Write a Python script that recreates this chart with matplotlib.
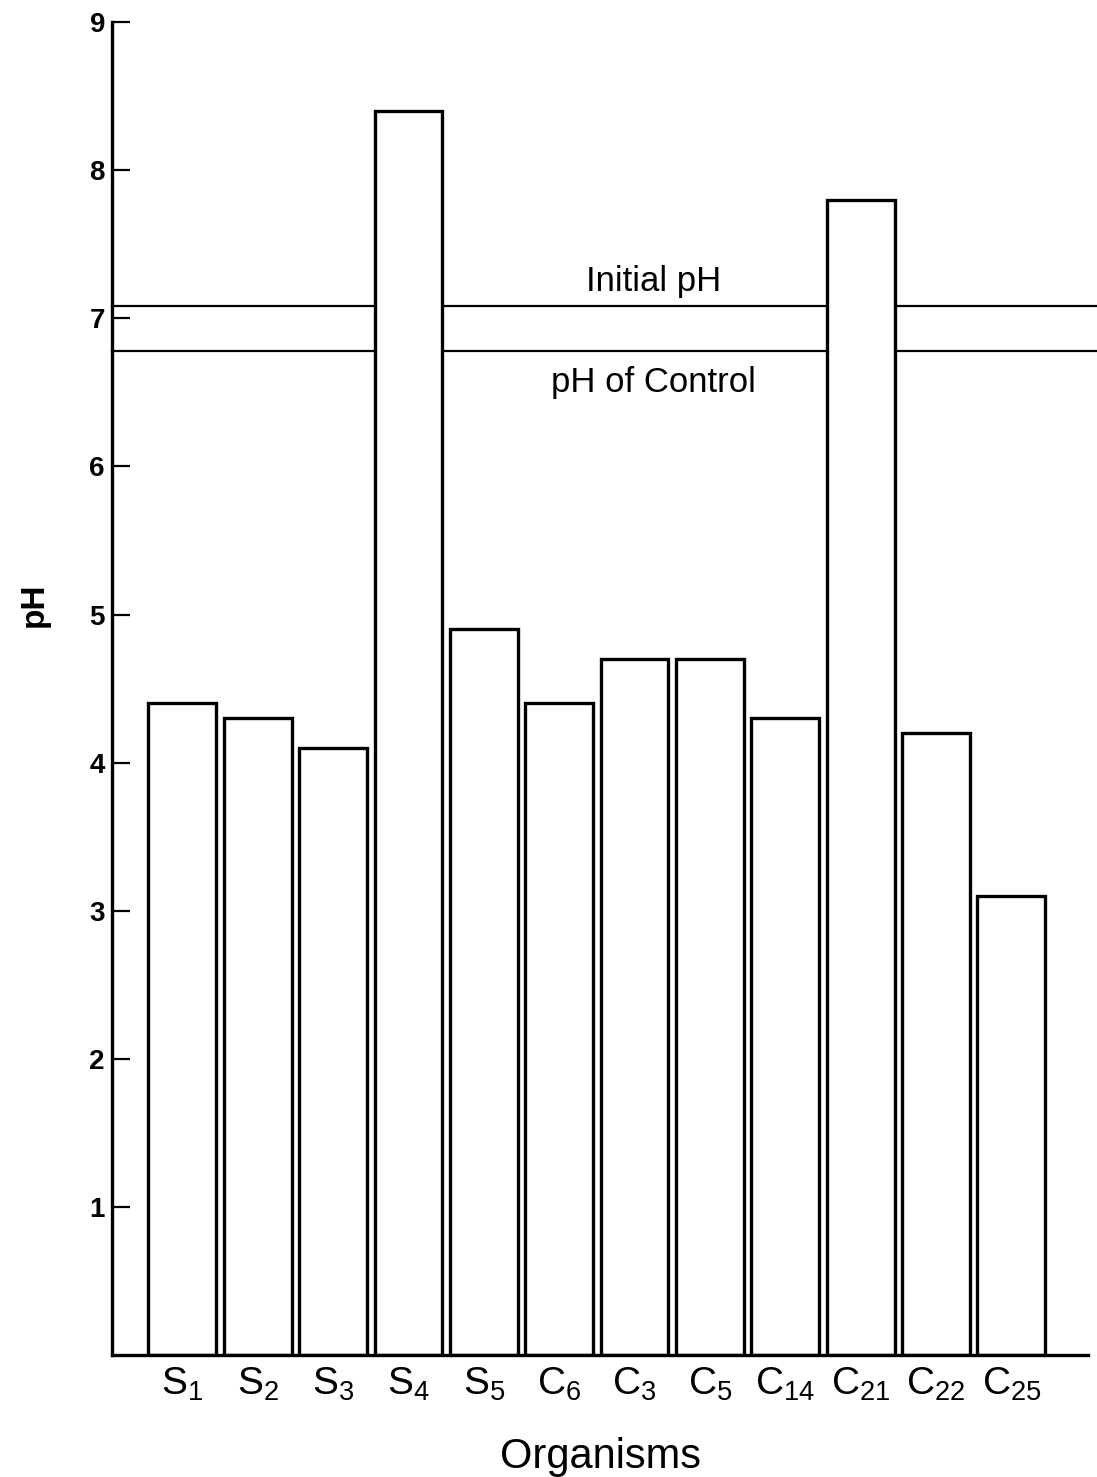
import numpy as np
import matplotlib
matplotlib.use('Agg')
import matplotlib.pyplot as plt

plt.rcParams['font.family'] = ['Liberation Sans', 'DejaVu Sans']
plt.rcParams['mathtext.fontset'] = 'custom'
plt.rcParams['mathtext.rm'] = 'Liberation Sans'

# pH reached by each organism
organisms = ['S_1', 'S_2', 'S_3', 'S_4', 'S_5', 'C_6', 'C_3', 'C_5',
             'C_{14}', 'C_{21}', 'C_{22}', 'C_{25}']
ph_values = [4.4, 4.3, 4.1, 8.4, 4.9, 4.4, 4.7, 4.7, 4.3, 7.8, 4.2, 3.1]
initial_ph = 7.08
control_ph = 6.78
yticks = [1, 2, 3, 4, 5, 6, 7, 8, 9]

fig = plt.figure(figsize=(10.97, 14.77), dpi=100)
ax = fig.add_axes([0.102, 0.0826, 0.890, 0.9024])

x = np.arange(len(organisms))

# reference lines run to the page edge, bars sit on top of them
for val in [initial_ph, control_ph]:
    ax.axhline(val, xmin=0, xmax=1.01, color='black', lw=1.6,
               clip_on=False, zorder=1)

ax.bar(x, ph_values, width=0.9, facecolor='white', edgecolor='black',
       linewidth=2.4, zorder=2)

ax.text(6.25, initial_ph + 0.06, 'Initial pH', ha='center', va='bottom',
        fontsize=25)
ax.text(6.25, control_ph - 0.1, 'pH of Control', ha='center', va='top',
        fontsize=25)

ax.set_xlim(-0.935, 12.02)
ax.set_ylim(0, 9)

ax.spines['top'].set_visible(False)
ax.spines['right'].set_visible(False)
ax.spines['left'].set_linewidth(2.4)
ax.spines['bottom'].set_linewidth(2.4)

ax.set_yticks(yticks)
ax.set_yticklabels([str(v) for v in yticks], fontsize=20, fontweight='bold')
ax.tick_params(axis='y', direction='in', length=13, width=1.6, pad=5)

ax.set_xticks(x)
ax.set_xticklabels(['$\\mathregular{%s}$' % o for o in organisms], fontsize=28)
ax.tick_params(axis='x', length=0, pad=8)

ax.set_ylabel('pH', fontsize=24, fontweight='bold')
ax.yaxis.set_label_coords(-0.064, 0.563)
ax.set_xlabel('Organisms', fontsize=30, labelpad=24)

fig.savefig('out.png', dpi=100)
